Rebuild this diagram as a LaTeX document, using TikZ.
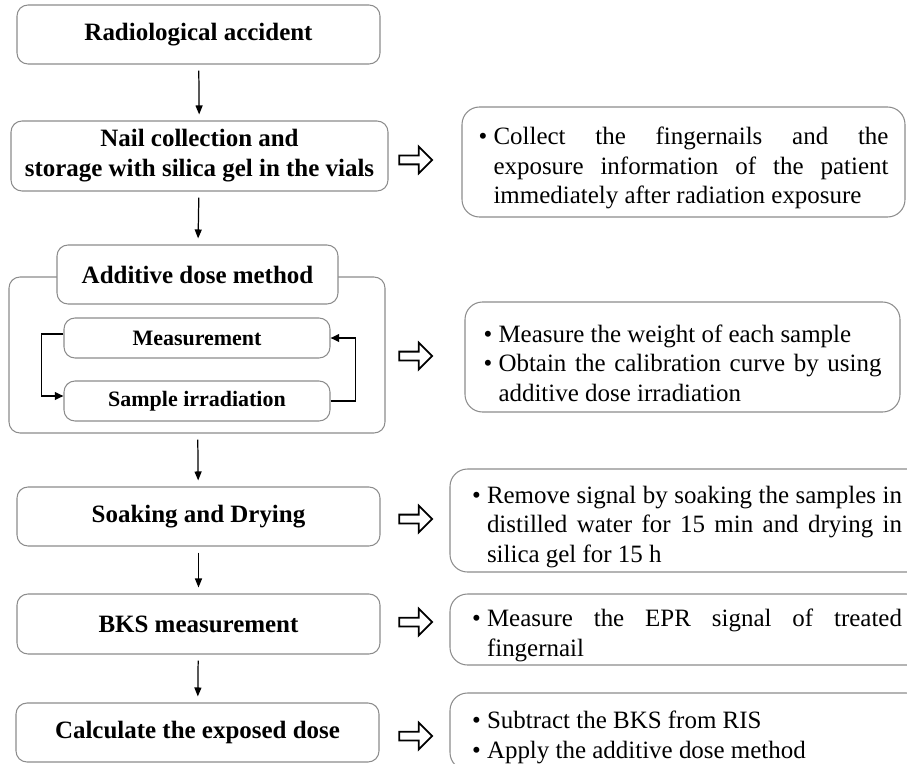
\documentclass[tikz,border=0pt]{standalone}
\usepackage{fontspec}
\setmainfont{Liberation Serif}
\usetikzlibrary{arrows.meta,shapes.arrows}
\tikzset{
	etape/.style={draw=gray!90, line width=0.6pt, rounded corners=0.22cm, fill=white, align=center, inner sep=0pt, minimum width=7.26cm, minimum height=1.18cm, font=\bfseries\fontsize{14.2}{17}\selectfont},
	sousetape/.style={etape, minimum width=5.32cm, minimum height=0.8cm, font=\bfseries\fontsize{12.5}{15}\selectfont},
	info/.style={draw=gray!90, line width=0.6pt, rounded corners=0.35cm, align=justify, inner ysep=0pt, font=\fontsize{14.2}{16.8}\selectfont},
	fleche/.style={-{Triangle[length=0.18cm,width=0.14cm]}, line width=0.7pt, shorten <=0.12cm, shorten >=0.12cm},
	boucle/.style={-{Triangle[length=0.17cm,width=0.15cm]}, line width=1pt},
	creuse/.style={single arrow, draw, line width=1pt, minimum height=0.66cm, single arrow head extend=0.18cm, inner xsep=0pt, inner ysep=0.07cm}
}
\newcommand{\puce}[1]{\par\hangindent=0.3cm\hangafter=1\noindent\makebox[0.3cm][l]{\textbullet}#1\par}
\begin{document}
\begin{tikzpicture}
	\useasboundingbox (0,0) rectangle (18.14,15.26);
	\clip (0,0) rectangle (18.14,15.26);
	% colonne de gauche
	\node[etape] (acc) at (3.97,14.57) {Radiological accident};
	\node[etape, minimum width=7.54cm, minimum height=1.4cm] (nail) at (3.99,12.14) {Nail collection and\\storage with silica gel in the vials};
	\node[etape, fill=none, minimum width=7.52cm, minimum height=3.12cm] (grp) at (3.94,8.16) {};
	\node[etape, minimum width=5.62cm] (add) at (3.95,9.77) {Additive dose method};
	\node[sousetape] (meas) at (3.94,8.5) {Measurement};
	\node[sousetape] (samp) at (3.94,7.24) {Sample irradiation};
	\node[etape] (soak) at (3.97,4.93) {Soaking and Drying};
	\node[etape, minimum height=1.2cm] (bks) at (3.97,2.78) {BKS measurement};
	\node[etape] (calc) at (3.95,0.61) {Calculate the exposed dose};
	\draw[fleche] (acc) -- (nail);
	\draw[fleche] (nail) -- (add);
	\draw[fleche] (grp) -- (soak);
	\draw[fleche] (soak) -- (bks);
	\draw[fleche] (bks) -- (calc);
	\draw[boucle] ([yshift=0.08cm]meas.west) -- ++(-0.44,0) |- ([yshift=0.1cm]samp.west);
	\draw[boucle] (samp.east) -- ++(0.5,0) |- (meas.east);
	% fleches creuses
	\node[creuse] (h1) at (8.27,12.06) {};
	\node[creuse] (h2) at (8.27,8.14) {};
	\node[creuse] (h3) at (8.27,4.88) {};
	\node[creuse] (h4) at (8.27,2.82) {};
	\node[creuse] (h5) at (8.27,0.54) {};
	% colonne de droite
	\node[info, text width=8.2cm, inner xsep=0.33cm, minimum height=2.2cm] (info1) at (13.67,12.02) {\puce{Collect the fingernails and the\linebreak exposure information of the patient\linebreak immediately after radiation exposure}};
	\node[info, text width=7.96cm, inner xsep=0.37cm, minimum height=2.2cm] (info2) at (13.65,8.12) {\puce{Measure the weight of each sample}\puce{Obtain the calibration curve by using\linebreak additive dose irradiation}};
	\node[info, text width=8.6cm, inner xsep=0.44cm, minimum height=2.06cm] (info3) at (13.74,4.85) {\puce{Remove signal by soaking the samples in\linebreak distilled water for 15 min and drying in\linebreak silica gel for 15 h}};
	\node[info, text width=8.6cm, inner xsep=0.44cm, minimum height=1.42cm] (info4) at (13.74,2.67) {\puce{Measure the EPR signal of treated\linebreak fingernail}};
	\node[info, text width=8.6cm, inner xsep=0.44cm, minimum height=1.54cm] (info5) at (13.74,0.63) {\puce{Subtract the BKS from RIS}\puce{Apply the additive dose method}};
\end{tikzpicture}
\end{document}
